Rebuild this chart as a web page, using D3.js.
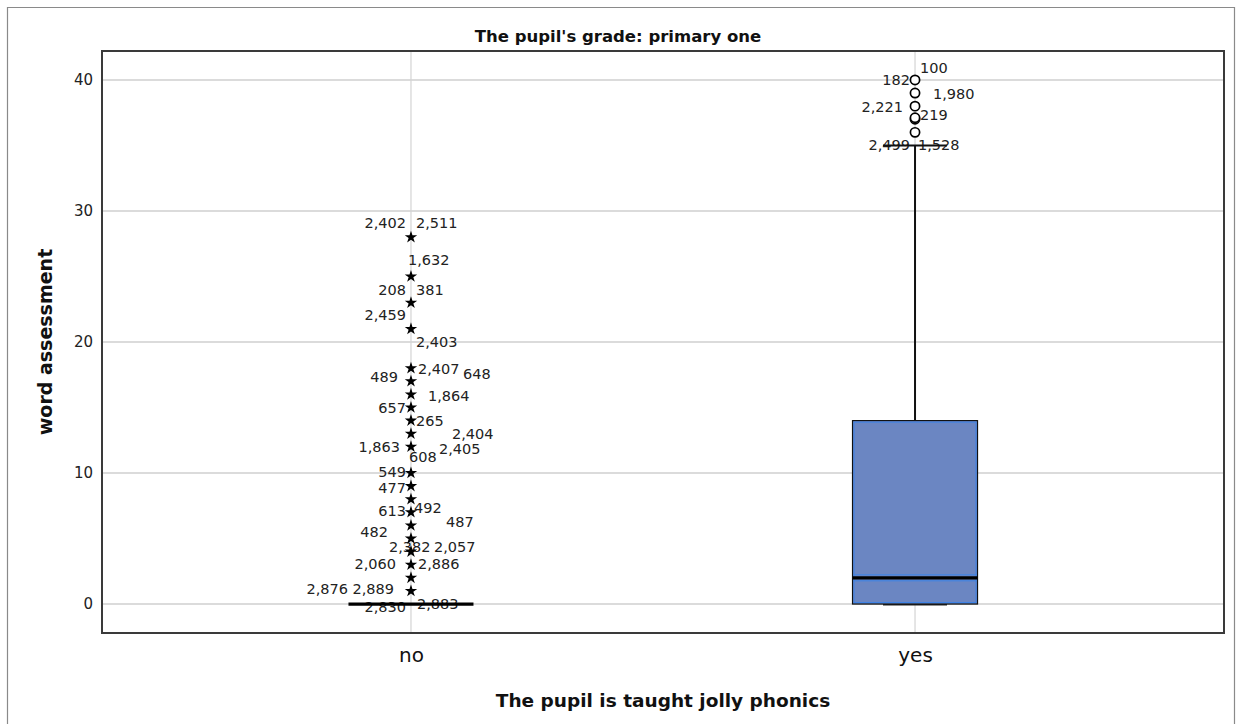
<!DOCTYPE html>
<html>
<head>
<meta charset="utf-8">
<script src="https://cdn.jsdelivr.net/npm/d3@7/dist/d3.min.js"></script>
<style>
  html, body { margin: 0; padding: 0; background: #fff; }
  svg { display: block; font-family: "DejaVu Sans", sans-serif; }
</style>
</head>
<body>
<svg id="chart" width="1236" height="724"></svg>
<script>
// Word assessment by whether the pupil is taught jolly phonics (primary one)
const categories = ["no", "yes"];
const yTicks = [0, 10, 20, 30, 40];

// Five-number summaries per category
const boxMin    = [0, 0];
const boxQ1     = [0, 0];
const boxMedian = [0, 2];
const boxQ3     = [0, 14];
const boxMax    = [0, 35];

// Extreme values (stars) in "no", outliers (circles) in "yes"
const extremeValues = [1, 2, 3, 4, 5, 6, 7, 8, 9, 10, 12, 13, 14, 15, 16, 17, 18, 21, 23, 25, 28];
const outlierValues = [36, 37, 37, 38, 39, 40];

// Case-number labels: category, value, case id
const caseCategory = ["no","no","no","no","no","no","no","no","no","no","no","no","no","no","no","no","no","no","no","no","no","no","no","no","no","no","no","no","no","no","no",
                      "yes","yes","yes","yes","yes","yes","yes"];
const caseValue = [28, 28, 25, 23, 23, 21, 21, 18, 17, 17, 16, 15, 14, 13, 12, 12, 12, 10, 9, 7, 7, 6, 5, 4, 4, 3, 3, 1, 1, 0, 0,
                   40, 40, 39, 38, 37, 36, 36];
const caseId = ["2,402","2,511","1,632","208","381","2,459","2,403","2,407","648","489","1,864","657","265","2,404","1,863","2,405","608","549","477","613","492","487","482","2,382","2,057","2,060","2,886","2,876","2,889","2,830","2,883",
                "100","182","1,980","2,221","219","2,499","1,528"];

// Label placement around each mark: [anchor, dx, dy]
const labelLayout = [
  ["end",-5,-14],["start",5,-14],["start",-3,-16],["end",-5,-13],["start",5,-13],["end",-5,-14],["start",5,13],
  ["start",7,1],["start",52,-7],["end",-13,-4],["start",17,2],["end",-5,0],["start",5,0],["start",41,0],
  ["end",-11,0],["start",28,2],["start",-2,10],["end",-5,-1],["end",-5,2],["end",-5,-1],["start",3,-4],
  ["start",35,-3],["end",-23,-7],["start",-22,-5],["start",23,-5],["end",-15,-1],["start",7,-1],
  ["end",-63,-2],["end",-17,-2],["end",-5,3],["start",6,0],
  ["start",5,-12],["end",-5,0],["start",18,1],["end",-12,1],["start",5,-4],["end",-5,13],["start",3,13]
];

const svg = d3.select("#chart");
const H = 724;
const plot = { left: 102, right: 1224, top: 51, bottom: 633 };

// Outer frame
svg.append("path")
  .attr("d", `M7.5,${H + 2} V7.5 H1234.5 V${H + 2}`)
  .attr("fill", "none").attr("stroke", "#8a8a8a").attr("stroke-width", 1.2);

const x = d3.scalePoint().domain(categories).range([plot.left, plot.right]).padding(0.613);
const y = d3.scaleLinear().domain([-2.21, 42.21]).range([plot.bottom, plot.top]);

// Gridlines
const grid = svg.append("g");
grid.selectAll("line.h").data(yTicks).join("line")
  .attr("x1", plot.left).attr("x2", plot.right)
  .attr("y1", d => y(d)).attr("y2", d => y(d))
  .attr("stroke", "#cfcfcf").attr("stroke-width", 1.6);
grid.selectAll("line.v").data(categories).join("line")
  .attr("x1", d => x(d)).attr("x2", d => x(d))
  .attr("y1", plot.top).attr("y2", plot.bottom)
  .attr("stroke", "#d4d4d4").attr("stroke-width", 1.2);

// Y axis
const yAxis = svg.append("g").attr("transform", `translate(${plot.left},0)`)
  .call(d3.axisLeft(y).tickValues(yTicks).tickSize(0).tickPadding(9));
yAxis.select(".domain").remove();
yAxis.selectAll("text").attr("font-size", 15).attr("fill", "#222")
  .attr("font-family", "DejaVu Sans, sans-serif");

// X axis labels
const xAxis = svg.append("g").attr("transform", `translate(0,${plot.bottom})`)
  .call(d3.axisBottom(x).tickSize(0).tickPadding(15));
xAxis.select(".domain").remove();
xAxis.selectAll("text").attr("font-size", 20).attr("fill", "#111")
  .attr("font-family", "DejaVu Sans, sans-serif");

const boxW = 125, capW = 64;

// Case labels
const labels = caseId.map((id, i) => ({ id, cat: caseCategory[i], v: caseValue[i], lay: labelLayout[i] }));
svg.append("g").selectAll("text").data(labels).join("text")
  .attr("x", d => x(d.cat) + d.lay[1])
  .attr("y", d => y(d.v) + d.lay[2])
  .attr("text-anchor", d => d.lay[0])
  .attr("dominant-baseline", "central")
  .attr("font-size", 14.5).attr("fill", "#222")
  .text(d => d.id);

// Boxes, whiskers and medians
categories.forEach((c, i) => {
  const cx = x(c);
  const g = svg.append("g");
  if (boxMax[i] > boxQ3[i]) {
    g.append("line").attr("x1", cx).attr("x2", cx)
      .attr("y1", y(boxQ3[i])).attr("y2", y(boxMax[i]))
      .attr("stroke", "#111").attr("stroke-width", 2);
    g.append("line").attr("x1", cx - capW / 2).attr("x2", cx + capW / 2)
      .attr("y1", y(boxMax[i])).attr("y2", y(boxMax[i]))
      .attr("stroke", "#111").attr("stroke-width", 2);
  }
  if (boxQ3[i] > boxQ1[i]) {
    g.append("line").attr("x1", cx - capW / 2).attr("x2", cx + capW / 2)
      .attr("y1", y(boxMin[i]) + 0.5).attr("y2", y(boxMin[i]) + 0.5)
      .attr("stroke", "#222").attr("stroke-width", 2);
    g.append("rect")
      .attr("x", cx - boxW / 2).attr("y", y(boxQ3[i]))
      .attr("width", boxW).attr("height", y(boxQ1[i]) - y(boxQ3[i]))
      .attr("fill", "#6b86c2").attr("stroke", "#111").attr("stroke-width", 1.2);
    g.append("rect")
      .attr("x", cx - boxW / 2 + 1.5).attr("y", y(boxQ3[i]) + 1.5)
      .attr("width", boxW - 3).attr("height", y(boxQ1[i]) - y(boxQ3[i]) - 3)
      .attr("fill", "none").attr("stroke", "#3d83e6").attr("stroke-width", 1);
    g.append("line").attr("x1", cx - boxW / 2 + 1).attr("x2", cx + boxW / 2 - 1)
      .attr("y1", y(boxMedian[i]) + 3).attr("y2", y(boxMedian[i]) + 3)
      .attr("stroke", "#3d83e6").attr("stroke-width", 1);
    g.append("line").attr("x1", cx - boxW / 2 + 1).attr("x2", cx + boxW / 2 - 1)
      .attr("y1", y(boxMedian[i]) - 3).attr("y2", y(boxMedian[i]) - 3)
      .attr("stroke", "#3d83e6").attr("stroke-width", 1);
    g.append("line").attr("x1", cx - boxW / 2).attr("x2", cx + boxW / 2)
      .attr("y1", y(boxMedian[i])).attr("y2", y(boxMedian[i]))
      .attr("stroke", "#000").attr("stroke-width", 3.2);
  } else {
    g.append("line").attr("x1", cx - boxW / 2).attr("x2", cx + boxW / 2)
      .attr("y1", y(boxMedian[i])).attr("y2", y(boxMedian[i]))
      .attr("stroke", "#000").attr("stroke-width", 3.2);
  }
});

// Extreme stars
svg.append("g").selectAll("path").data(extremeValues).join("path")
  .attr("transform", d => `translate(${x("no")},${y(d)})`)
  .attr("d", d3.symbol(d3.symbolStar, 48))
  .attr("fill", "#000");

// Outlier circles
svg.append("g").selectAll("circle").data(outlierValues).join("circle")
  .attr("cx", x("yes")).attr("cy", (d, i) => y(d) + (i === 2 ? -1.5 : 0))
  .attr("r", 4.6)
  .attr("fill", "#fff").attr("stroke", "#000").attr("stroke-width", 1.7);

// Plot frame
svg.append("rect")
  .attr("x", plot.left).attr("y", plot.top)
  .attr("width", plot.right - plot.left).attr("height", plot.bottom - plot.top)
  .attr("fill", "none").attr("stroke", "#3a3a3a").attr("stroke-width", 2);

// Titles
svg.append("text").attr("x", 618).attr("y", 36)
  .attr("text-anchor", "middle").attr("dominant-baseline", "central")
  .attr("font-size", 16.5).attr("font-weight", "bold").attr("fill", "#111")
  .text("The pupil's grade: primary one");

svg.append("text").attr("x", (plot.left + plot.right) / 2).attr("y", 700)
  .attr("text-anchor", "middle").attr("dominant-baseline", "central")
  .attr("font-size", 18.5).attr("font-weight", "bold").attr("fill", "#111")
  .text("The pupil is taught jolly phonics");

svg.append("text")
  .attr("transform", `translate(45,${(plot.top + plot.bottom) / 2}) rotate(-90)`)
  .attr("text-anchor", "middle").attr("dominant-baseline", "central")
  .attr("font-size", 19).attr("font-weight", "bold").attr("fill", "#111")
  .text("word assessment");
</script>
</body>
</html>
